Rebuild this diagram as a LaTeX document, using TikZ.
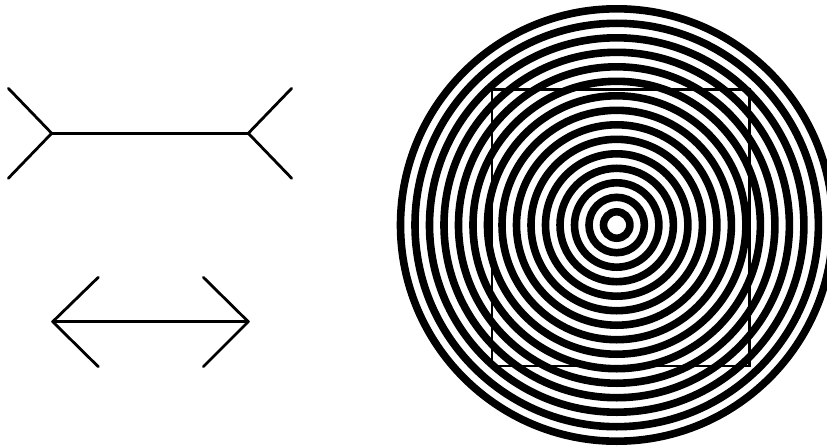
\documentclass[tikz,border=0pt]{standalone}
\begin{document}
\begin{tikzpicture}[x=1pt,y=-1pt,
  fig/.style={line width=2.8pt,line cap=round,line join=round,black},
  ring/.style={line width=7.6pt,black},
  sq/.style={line width=2.2pt,black}]
\useasboundingbox (0,0) rectangle (827,447);
\fill[white] (0,0) rectangle (827,447);
% Mueller-Lyer, top (fins outward)
\coordinate (a1) at (51.7,133.3);
\coordinate (a2) at (248.3,133.3);
\draw[fig] (8.3,88.3) -- (a1) -- (8.3,178.3);
\draw[fig] (a1) -- (a2);
\draw[fig] (291.7,88.3) -- (a2) -- (291.7,178.3);
% Mueller-Lyer, bottom (arrowheads)
\coordinate (b1) at (52.7,321.7);
\coordinate (b2) at (248.3,321.7);
\draw[fig] (98.3,277.3) -- (b1) -- (98.3,366.7);
\draw[fig] (b1) -- (b2);
\draw[fig] (203.3,277.3) -- (b2) -- (203.3,366.7);
% concentric rings
\begin{scope}
\clip (0,0) rectangle (827,447);
\coordinate (c) at (616.7,225);
\foreach \k in {0,...,14}{
  \draw[ring] (c) circle ({216.2-14.5*\k});
}
\end{scope}
% square
\draw[sq] (491.7,89.5) rectangle (749.5,366);
\end{tikzpicture}
\end{document}
